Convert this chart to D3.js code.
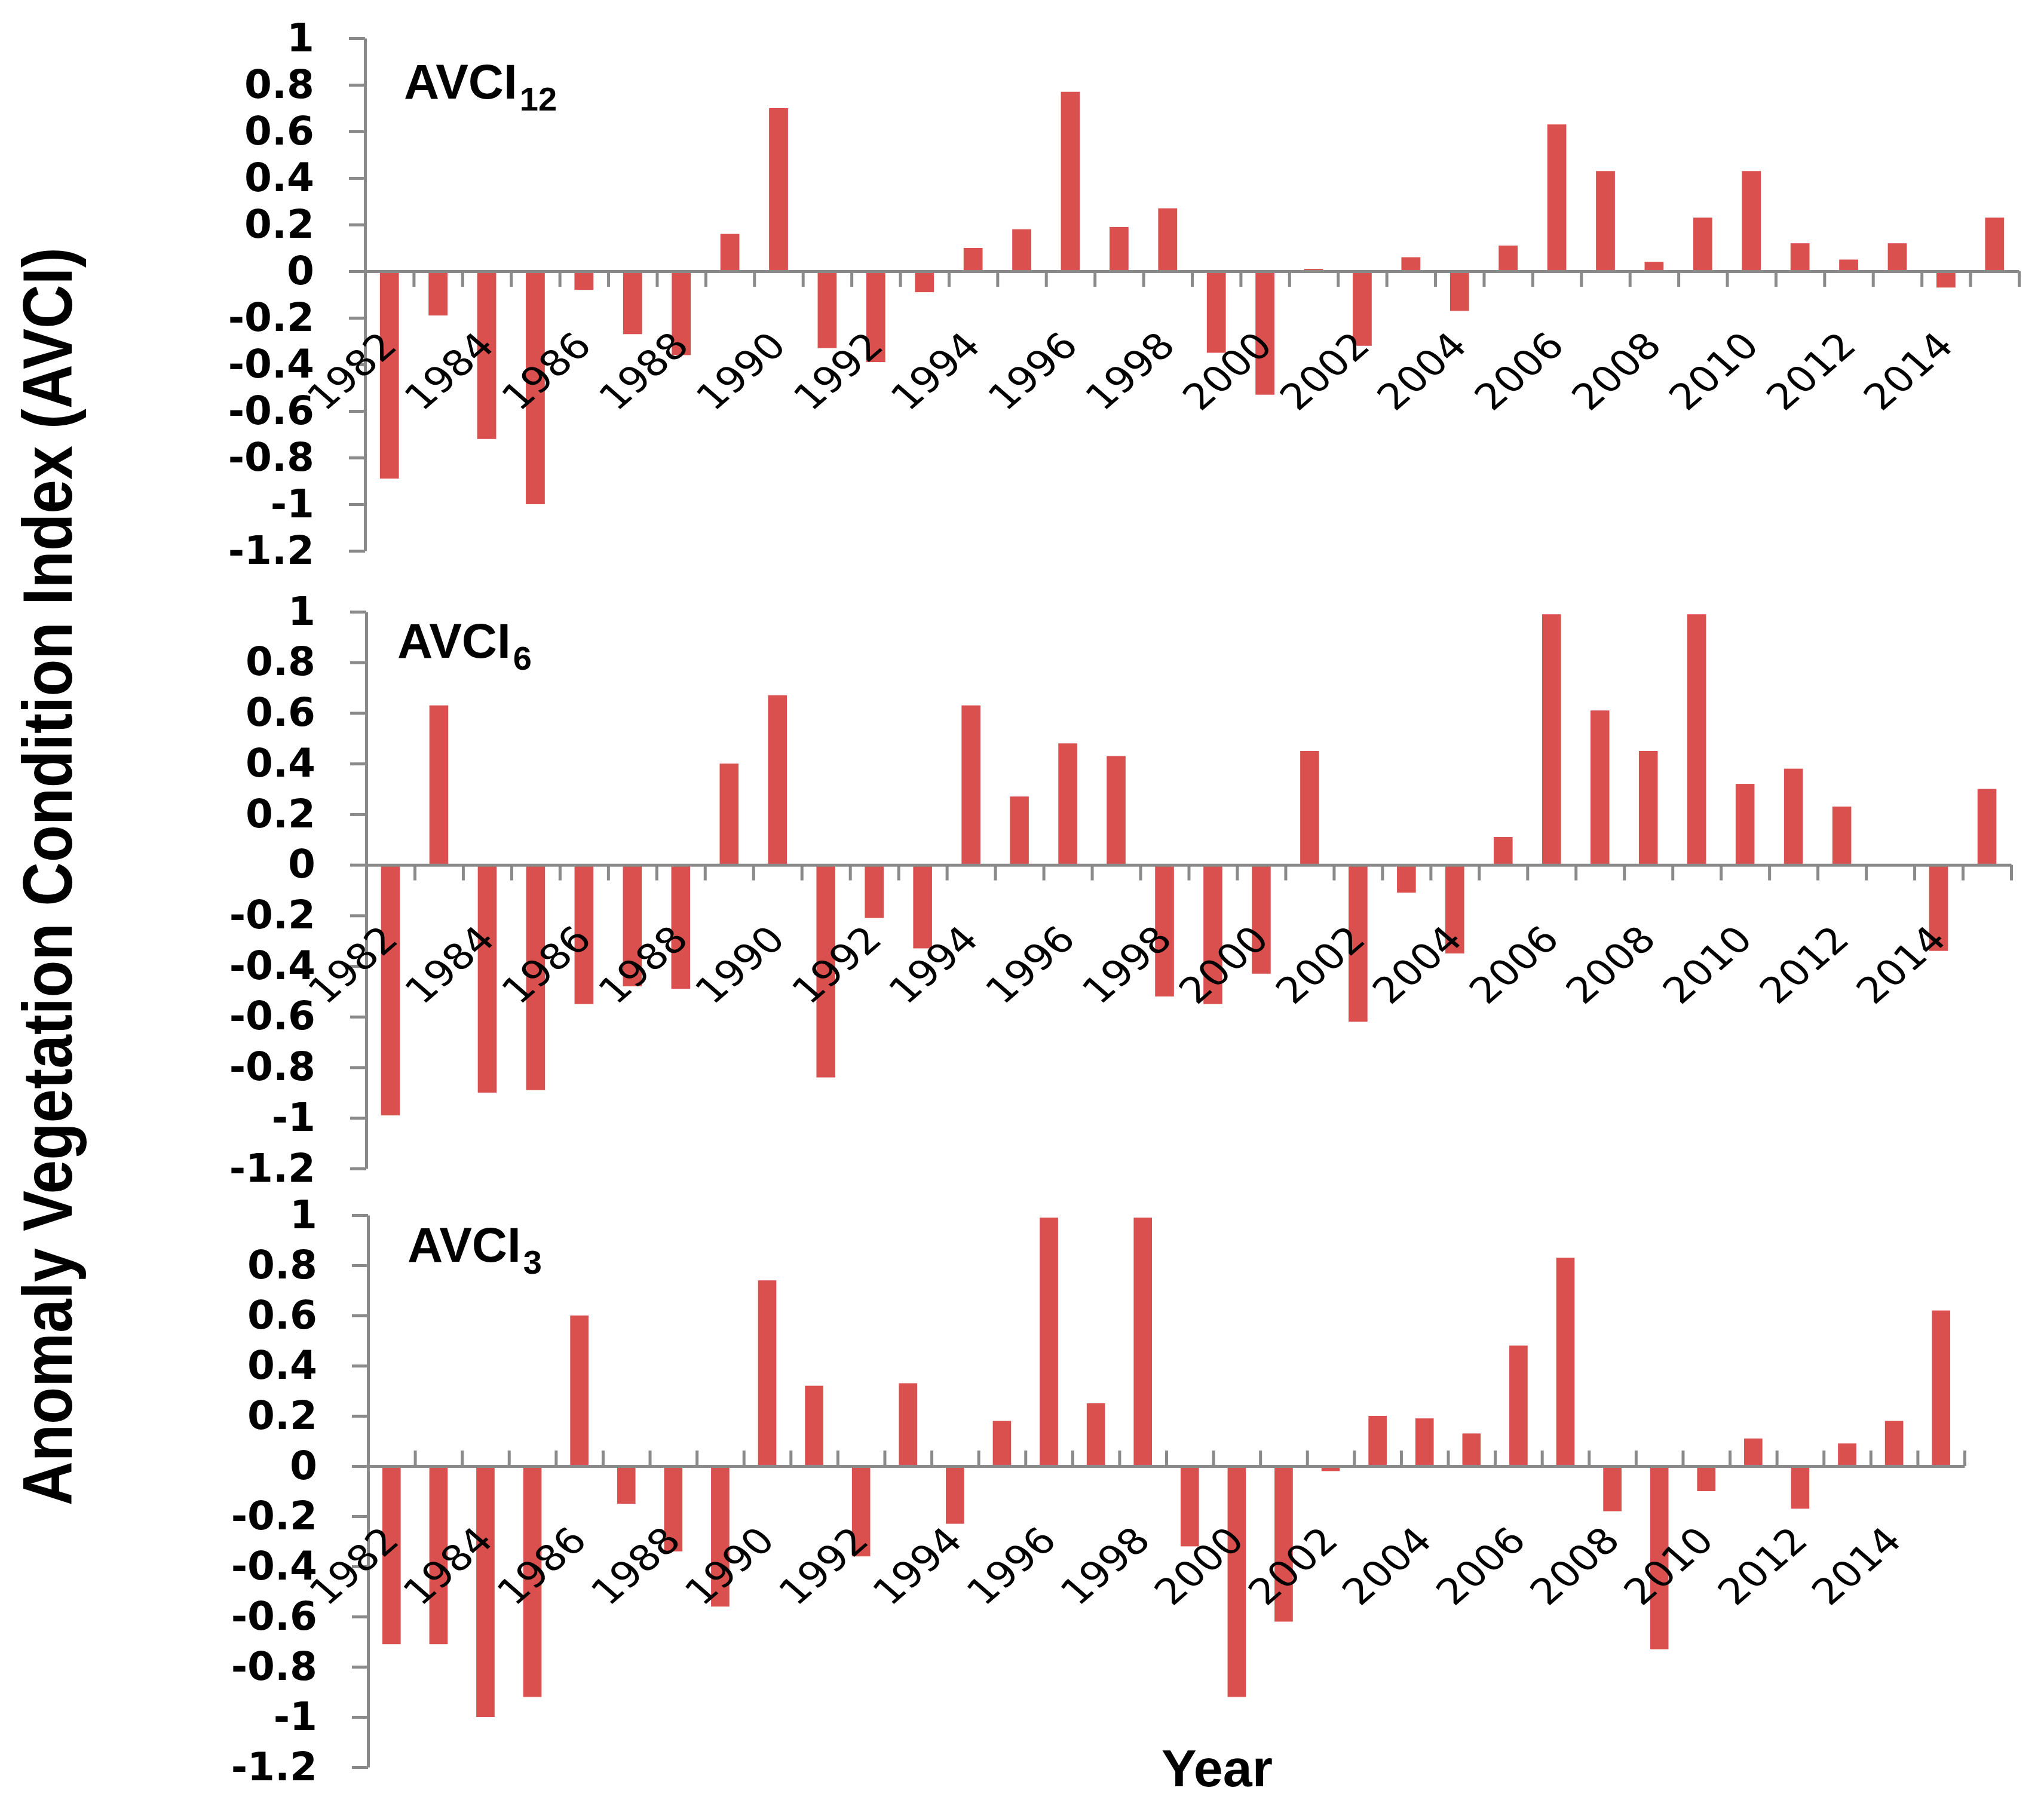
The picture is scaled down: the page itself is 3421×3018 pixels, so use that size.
<!DOCTYPE html>
<html><head><meta charset="utf-8">
<script src="https://cdn.jsdelivr.net/npm/d3@7"></script>
<style>html,body{margin:0;padding:0;background:#fff;} svg{display:block;}</style>
</head><body>
<svg id="chart" width="3421" height="3018"></svg>
<script>
// ---- data ----
const years = [1982,1983,1984,1985,1986,1987,1988,1989,1990,1991,1992,1993,1994,1995,1996,1997,1998,
               1999,2000,2001,2002,2003,2004,2005,2006,2007,2008,2009,2010,2011,2012,2013,2014,2015];
const labeledYears = [1982,1984,1986,1988,1990,1992,1994,1996,1998,2000,2002,2004,2006,2008,2010,2012,2014];
const yTickValues = [1,0.8,0.6,0.4,0.2,0,-0.2,-0.4,-0.6,-0.8,-1,-1.2];
const yTickLabels = ["1","0.8","0.6","0.4","0.2","0","-0.2","-0.4","-0.6","-0.8","-1","-1.2"];
const avci12 = [-0.89,-0.19,-0.72,-1.00,-0.08,-0.27,-0.36,0.16,0.70,-0.33,-0.39,-0.09,0.10,0.18,0.77,0.19,0.27,
                -0.35,-0.53,0.01,-0.32,0.06,-0.17,0.11,0.63,0.43,0.04,0.23,0.43,0.12,0.05,0.12,-0.07,0.23];
const avci6  = [-0.99,0.63,-0.90,-0.89,-0.55,-0.48,-0.49,0.40,0.67,-0.84,-0.21,-0.33,0.63,0.27,0.48,0.43,-0.52,
                -0.55,-0.43,0.45,-0.62,-0.11,-0.35,0.11,0.99,0.61,0.45,0.99,0.32,0.38,0.23,0,-0.34,0.30];
const avci3  = [-0.71,-0.71,-1.00,-0.92,0.60,-0.15,-0.34,-0.56,0.74,0.32,-0.36,0.33,-0.23,0.18,0.99,0.25,0.99,
                -0.32,-0.92,-0.62,-0.02,0.20,0.19,0.13,0.48,0.83,-0.18,-0.73,-0.10,0.11,-0.17,0.09,0.18,0.62];
const panelTitles = ["AVCI","AVCI","AVCI"];
const panelSubscripts = ["12","6","3"];
const yAxisTitle = "Anomaly Vegetation Condition Index (AVCI)";
const xAxisTitle = "Year";

// ---- layout (positions / styles) ----
const series = [avci12, avci6, avci3];
const layout = [
  {x0:611, x1:3379, yTop:64,   yBot:922,  tickDir:1,  tx:676, ty:165},
  {x0:613, x1:3366, yTop:1024, yBot:1956, tickDir:1,  tx:665, ty:1101},
  {x0:616, x1:3288, yTop:2034, yBot:2958, tickDir:-1, tx:682, ty:2112}
];
const BAR = "#d9504f", AXIS = "#8a8a8a", SX = 1.15;

const svg = d3.select("#chart");

layout.forEach((L, p) => {
  const vals = series[p];
  const g = svg.append("g");
  const y = d3.scaleLinear().domain([-1.2, 1]).range([L.yBot, L.yTop]);
  const x = d3.scaleBand().domain(years).range([L.x0, L.x1]).paddingInner(0.61).paddingOuter(0.305);
  const xi = d3.scaleLinear().domain([0, years.length]).range([L.x0, L.x1]);
  const y0 = y(0);

  // bars
  g.append("g").selectAll("rect").data(years).join("rect")
    .attr("x", d => x(d))
    .attr("width", x.bandwidth())
    .attr("y", (d, i) => Math.min(y(vals[i]), y0))
    .attr("height", (d, i) => Math.abs(y(vals[i]) - y0))
    .attr("fill", BAR);

  // y axis
  const ya = g.append("g").attr("transform", `translate(${L.x0},0)`)
    .call(d3.axisLeft(y).tickValues(yTickValues)
      .tickFormat((d, i) => yTickLabels[i])
      .tickSizeInner(27).tickSizeOuter(0).tickPadding(58));
  ya.attr("font-family", "'DejaVu Sans', sans-serif").attr("font-size", 66).attr("font-weight", "bold");
  ya.selectAll("text").attr("fill", "#000");
  ya.selectAll("line").attr("stroke", AXIS).attr("stroke-width", 5);
  ya.select(".domain").attr("stroke", AXIS).attr("stroke-width", 5);

  // x axis (zero line with boundary ticks)
  const xa = g.append("g").attr("transform", `translate(0,${y0})`)
    .call(d3.axisBottom(xi).tickValues(d3.range(0, years.length + 1)).tickFormat("")
      .tickSizeInner(26 * L.tickDir).tickSizeOuter(0));
  xa.selectAll("line").attr("stroke", AXIS).attr("stroke-width", 5);
  xa.select(".domain").attr("stroke", AXIS).attr("stroke-width", 5);

  // year labels
  g.append("g").selectAll("text").data(labeledYears).join("text")
    .attr("transform", d => `translate(${x(d) + x.bandwidth() / 2 + 16},${y0 + 128}) scale(${SX},1) rotate(-45)`)
    .attr("text-anchor", "end")
    .attr("font-family", "'DejaVu Sans', sans-serif")
    .attr("font-size", 60)
    .attr("fill", "#000")
    .text(d => String(d));

  // panel title with subscript
  const t = g.append("text").attr("x", L.tx).attr("y", L.ty)
    .attr("font-family", "'Liberation Sans', Arial, sans-serif").attr("font-weight", "bold")
    .attr("font-size", 82).attr("fill", "#000");
  t.append("tspan").text(panelTitles[p]);
  t.append("tspan").attr("dy", 20).attr("dx", 4).attr("font-size", 56).text(panelSubscripts[p]);
});

// axis titles
svg.append("text")
  .attr("transform", `translate(120,1467) scale(${SX},1) rotate(-90)`)
  .attr("text-anchor", "middle")
  .attr("font-family", "'Liberation Sans', Arial, sans-serif").attr("font-weight", "bold")
  .attr("font-size", 102).attr("fill", "#000")
  .text(yAxisTitle);

svg.append("text")
  .attr("x", 2037).attr("y", 2990)
  .attr("text-anchor", "middle")
  .attr("font-family", "'Liberation Sans', Arial, sans-serif").attr("font-weight", "bold")
  .attr("font-size", 88).attr("fill", "#000")
  .text(xAxisTitle);
</script>
</body></html>
